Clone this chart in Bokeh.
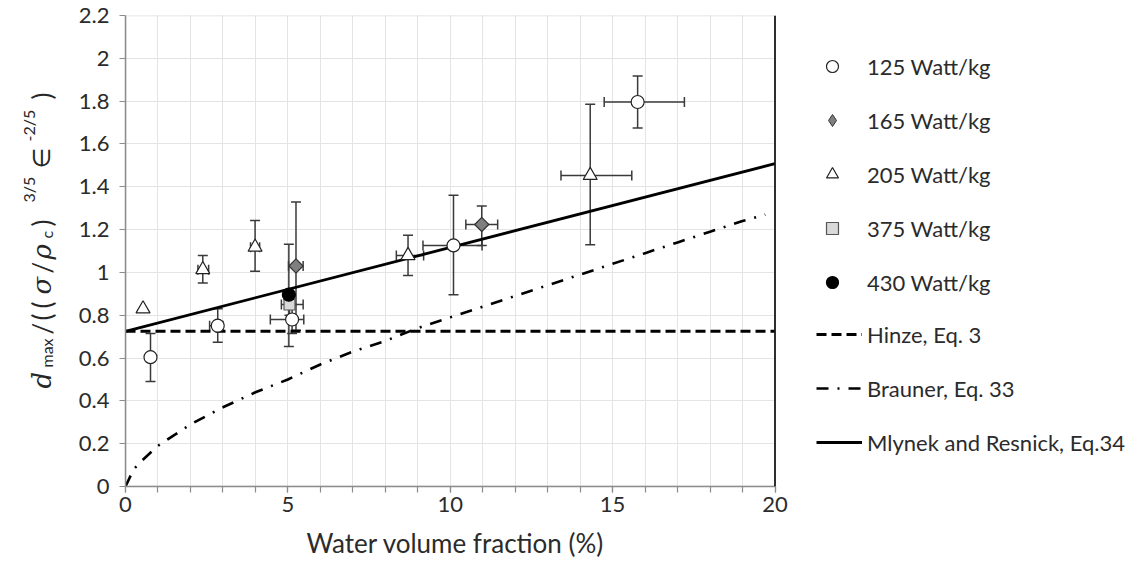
import math
from bokeh.plotting import figure
from bokeh.layouts import row
from bokeh.models import (Range1d, FixedTicker, CustomJSTickFormatter, Whisker, TeeHead,
                          ColumnDataSource, Legend, LegendItem, Label, Span, BoxAnnotation, Title)
from bokeh.embed import file_html
from bokeh.resources import INLINE

# ---------------- data ----------------
x_ticks = [0, 5, 10, 15, 20]
x_minor = list(range(0, 21))
y_ticks = [0, 0.2, 0.4, 0.6, 0.8, 1.0, 1.2, 1.4, 1.6, 1.8, 2.0, 2.2]

s125_x = [0.77, 2.84, 5.13, 10.10, 15.77]
s125_y = [0.604, 0.751, 0.780, 1.126, 1.796]
s125_ylo = [0.49, 0.674, 0.715, 0.896, 1.674]
s125_yhi = [0.715, 0.830, 0.850, 1.360, 1.917]
s125_xlo = [None, 2.59, 4.46, 9.16, 14.74]
s125_xhi = [None, 3.00, 5.49, 10.98, 17.21]

s165_x = [5.25, 10.97]
s165_y = [1.030, 1.224]
s165_ylo = [0.73, 1.126]
s165_yhi = [1.329, 1.310]
s165_xlo = [5.02, 10.48]
s165_xhi = [5.47, 11.46]

s205_x = [0.54, 2.38, 3.99, 8.70, 14.31]
s205_y = [0.830, 1.013, 1.118, 1.079, 1.453]
s205_ylo = [None, 0.950, 1.005, 0.986, 1.129]
s205_yhi = [None, 1.079, 1.243, 1.173, 1.786]
s205_xlo = [None, 2.23, 3.85, 8.34, 13.41]
s205_xhi = [None, 2.56, 4.13, 9.18, 15.59]

s375_x = [5.05]
s375_y = [0.850]
s375_ylo = [0.80]
s375_yhi = [0.89]
s375_xlo = [4.80]
s375_xhi = [5.47]

s430_x = [5.03]
s430_y = [0.896]
s430_ylo = [0.654]
s430_yhi = [1.131]
s430_xlo = [None]
s430_xhi = [None]

hinze_x = [0, 20]
hinze_y = [0.725, 0.725]

brauner_x = [0, 0.25, 0.5, 1, 1.5, 2, 3, 4, 5, 6, 7, 8, 9, 10, 11, 12, 13, 14, 15, 16, 17, 18, 19, 19.7]
brauner_y = [0, 0.08, 0.12, 0.19, 0.24, 0.29, 0.37, 0.44, 0.50, 0.57, 0.63, 0.68, 0.74, 0.79,
             0.84, 0.89, 0.94, 0.99, 1.04, 1.09, 1.14, 1.19, 1.24, 1.27]

mlynek_x = [0, 20]
mlynek_y = [0.725, 1.508]

series_names = ["125 Watt/kg", "165 Watt/kg", "205 Watt/kg", "375 Watt/kg", "430 Watt/kg"]
line_names = ["Hinze, Eq. 3", "Brauner, Eq. 33", "Mlynek and Resnick, Eq.34"]
x_title = "Water volume fraction (%)"

# ---------------- geometry / style ----------------
TXT = "#2b2b2b"
FONT = "Lato"
H = 568
LAB_W = 60            # width of the strip holding the y title
FRAME_L = 125         # page x of x=0
X20_PX = 774.5        # page x of x=20
PAGE_R = 1138
FRAME_T = 15
FRAME_B = 486
X_END = 20 * (PAGE_R - FRAME_L) / (X20_PX - FRAME_L)

p = figure(width=PAGE_R - LAB_W, height=H, x_range=Range1d(0, X_END), y_range=Range1d(0, 2.2),
           output_backend="svg", toolbar_location=None,
           min_border_left=FRAME_L - LAB_W, min_border_right=0,
           min_border_top=FRAME_T, min_border_bottom=H - FRAME_B)
p.outline_line_color = None
p.background_fill_color = "white"

# axes
p.xaxis.ticker = FixedTicker(ticks=x_ticks, minor_ticks=x_minor)
p.xaxis.bounds = (0, 20)
p.yaxis.ticker = FixedTicker(ticks=y_ticks)
p.yaxis.formatter = CustomJSTickFormatter(code="return (Math.round(tick*10)/10).toString();")
for ax in (p.xaxis[0], p.yaxis[0]):
    ax.axis_line_color = "#8c8c8c"
    ax.axis_line_width = 1.5
    ax.major_tick_line_color = "#8c8c8c"
    ax.minor_tick_line_color = "#8c8c8c"
    ax.major_tick_line_width = 1.2
    ax.minor_tick_line_width = 1.2
    ax.major_tick_out = 6
    ax.major_tick_in = 0
    ax.minor_tick_out = 6
    ax.minor_tick_in = 0
    ax.major_label_text_font = FONT
    ax.major_label_text_font_size = "22px"
    ax.major_label_text_color = TXT
p.yaxis.minor_tick_line_color = None
p.yaxis.major_label_standoff = 10
p.xaxis.major_label_standoff = 4

# x title, centred under the 0-20 span
p.add_layout(Title(text=x_title, align="left", offset=181, standoff=20,
                   text_font=FONT, text_font_size="26px", text_font_style="normal",
                   text_color=TXT), "below")

# grid
p.xgrid.ticker = FixedTicker(ticks=list(range(1, 20)))
p.ygrid.ticker = FixedTicker(ticks=y_ticks[1:-1])
p.xgrid.grid_line_color = "#e4e4e4"
p.ygrid.grid_line_color = "#e4e4e4"
p.xgrid.grid_line_width = 1
p.ygrid.grid_line_width = 1

# blank out everything right of the plot area (legend zone)
p.add_layout(BoxAnnotation(left=20, fill_color="white", fill_alpha=1, line_color=None,
                           level="underlay"))
# plot-area border (top gray, right black)
p.add_layout(BoxAnnotation(left=0, right=20, bottom=0, top=2.2, fill_alpha=0,
                           line_color="#8c8c8c", line_width=1.5, level="underlay"))
p.add_layout(Span(location=20, dimension="height", line_color="#1a1a1a", line_width=1.8))

# lines
r_hinze = p.line(hinze_x, hinze_y, line_color="black", line_width=3, line_dash="10 5")
r_brauner = p.line(brauner_x, brauner_y, line_color="black", line_width=2.6, line_dash="12 9 2 9")
r_mlynek = p.line(mlynek_x, mlynek_y, line_color="black", line_width=2.8)

# error bars
all_series = [
    (s125_x, s125_y, s125_ylo, s125_yhi, s125_xlo, s125_xhi),
    (s165_x, s165_y, s165_ylo, s165_yhi, s165_xlo, s165_xhi),
    (s205_x, s205_y, s205_ylo, s205_yhi, s205_xlo, s205_xhi),
    (s375_x, s375_y, s375_ylo, s375_yhi, s375_xlo, s375_xhi),
    (s430_x, s430_y, s430_ylo, s430_yhi, s430_xlo, s430_xhi),
]
ye = dict(b=[], lo=[], hi=[])
xe = dict(b=[], lo=[], hi=[])
for xs, ys, ylo, yhi, xlo, xhi in all_series:
    for i in range(len(xs)):
        if ylo[i] is not None:
            ye["b"].append(xs[i]); ye["lo"].append(ylo[i]); ye["hi"].append(yhi[i])
        if xlo[i] is not None:
            xe["b"].append(ys[i]); xe["lo"].append(xlo[i]); xe["hi"].append(xhi[i])

EB = "#3a3a3a"
def head():
    return TeeHead(size=10, line_color=EB, line_width=1.5)

p.add_layout(Whisker(source=ColumnDataSource(ye), base="b", lower="lo", upper="hi",
                     dimension="height", line_color=EB, line_width=1.5,
                     lower_head=head(), upper_head=head()))
p.add_layout(Whisker(source=ColumnDataSource(xe), base="b", lower="lo", upper="hi",
                     dimension="width", line_color=EB, line_width=1.5,
                     lower_head=head(), upper_head=head()))

# markers
r125 = p.scatter(s125_x, s125_y, marker="circle", size=13, fill_color="white",
                 line_color="#222222", line_width=1.2)
# legend key for 165 (diamond shape), lies hidden beneath the rotated squares
r165_key = p.scatter(s165_x, s165_y, marker="diamond", size=12,
                     fill_color="#7f7f7f", line_color="#333333", line_width=1)
r165 = p.scatter(s165_x, s165_y, marker="square", size=10, angle=math.pi / 4,
                 fill_color="#7f7f7f", line_color="#333333", line_width=1.2)
r205 = p.scatter(s205_x, s205_y, marker="triangle", size=14, fill_color="white",
                 line_color="#222222", line_width=1.2)
r375 = p.scatter(s375_x, s375_y, marker="square", size=11, fill_color="#d9d9d9",
                 line_color="#555555", line_width=1.2)
r430 = p.scatter(s430_x, s430_y, marker="circle", size=13, fill_color="black",
                 line_color="black", line_width=1.2)

# legends (inside the extended frame, right of x=20)
GH, SP = 30, 24
def make_legend(items, gw, standoff, loc):
    lg = Legend(items=items, location=loc, glyph_width=gw, glyph_height=GH, spacing=SP,
                padding=0, margin=0, label_standoff=standoff, label_height=GH,
                label_text_font=FONT, label_text_font_size="22px", label_text_color=TXT,
                border_line_color=None, background_fill_alpha=0)
    p.add_layout(lg)

LEG_X = 816 - FRAME_L
make_legend([LegendItem(label=n, renderers=[r]) for n, r in
             zip(series_names, [r125, r165_key, r205, r375, r430])], 32, 19, (LEG_X, FRAME_B - 297))
make_legend([LegendItem(label=n, renderers=[r]) for n, r in
             zip(line_names, [r_hinze, r_brauner, r_mlynek])], 46, 5, (LEG_X, FRAME_B - 457))

# ---------------- y title strip ----------------
# its frame is given the same vertical extent as the main plot, and its y range is page pixels
lab = figure(width=LAB_W, height=H, x_range=Range1d(0, LAB_W),
             y_range=Range1d(H - FRAME_B, H - FRAME_T),
             output_backend="svg", toolbar_location=None, x_axis_type=None, y_axis_type=None,
             min_border_left=0, min_border_right=0,
             min_border_top=FRAME_T, min_border_bottom=H - FRAME_B)
lab.outline_line_color = None
lab.grid.visible = False

MAIN_X, SUB_X, SUP_X = 41, 46, 28
pieces = [
    ("d", 388, MAIN_X, "DejaVu Serif", "26px", "italic"),
    ("max", 367, SUB_X, FONT, "16px", "normal"),
    ("/", 334, MAIN_X, FONT, "26px", "normal"),
    ("(", 320, MAIN_X, FONT, "26px", "normal"),
    ("(", 308, MAIN_X, FONT, "26px", "normal"),
    ("σ", 294, MAIN_X, "DejaVu Serif", "26px", "italic"),
    ("/", 273, MAIN_X, FONT, "26px", "normal"),
    ("ρ", 259, MAIN_X, "DejaVu Serif", "26px", "italic"),
    ("c", 238, SUB_X, FONT, "16px", "normal"),
    (")", 226, MAIN_X, FONT, "26px", "normal"),
    ("3/5", 202, SUP_X, FONT, "16px", "normal"),
    ("∈", 168, MAIN_X, "DejaVu Sans", "24px", "normal"),
    ("-2/5", 141, SUP_X, FONT, "16px", "normal"),
    (")", 99, MAIN_X, FONT, "26px", "normal"),
]
for t, sy, sx, fnt, fs, st in pieces:
    lab.add_layout(Label(x=sx, y=H - sy, text=t, angle=math.pi / 2,
                         text_align="left", text_baseline="alphabetic",
                         text_font=fnt, text_font_size=fs, text_font_style=st,
                         text_color="#262626"))

layout = row(lab, p)
open("out.html", "w").write(file_html(layout, INLINE))
